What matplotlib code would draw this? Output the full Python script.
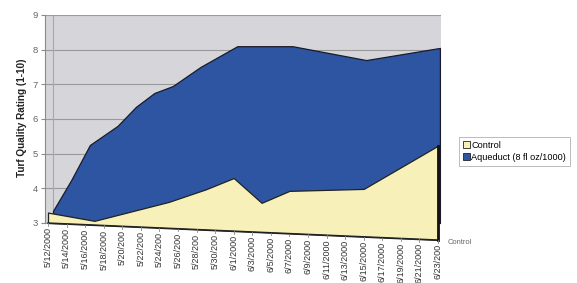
import matplotlib
matplotlib.use("Agg")
import matplotlib.pyplot as plt
from matplotlib.transforms import Affine2D
from matplotlib.patches import Patch
import datetime as dt

plt.rcParams['font.family'] = ['Liberation Sans', 'DejaVu Sans']

# ---------------- data ----------------
aq_dates = ["5/12", "5/14", "5/16", "5/19", "5/21", "5/23", "5/25", "5/28", "6/1", "6/7", "6/15", "6/23"]
aq_values = [3.35, 4.25, 5.25, 5.8, 6.35, 6.75, 6.95, 7.5, 8.1, 8.1, 7.7, 8.05]
ctrl_dates = ["5/12", "5/17", "5/20", "5/25", "5/29", "6/1", "6/4", "6/7", "6/15", "6/23"]
ctrl_values = [3.3, 3.12, 3.36, 3.76, 4.17, 4.53, 3.85, 4.23, 4.38, 5.72]
tick_dates = ["5/12", "5/14", "5/16", "5/18", "5/20", "5/22", "5/24", "5/26", "5/28", "5/30",
              "6/1", "6/3", "6/5", "6/7", "6/9", "6/11", "6/13", "6/15", "6/17", "6/19", "6/21", "6/23"]
tick_labels = ["5/12/2000", "5/14/2000", "5/16/2000", "5/18/2000", "5/20/200", "5/22/200",
               "5/24/200", "5/26/200", "5/28/200", "5/30/200", "6/1/2000", "6/3/2000",
               "6/5/2000", "6/7/2000", "6/9/2000", "6/11/2000", "6/13/2000", "6/15/2000",
               "6/17/2000", "6/19/2000", "6/21/2000", "6/23/200"]
y_ticks = [3, 4, 5, 6, 7, 8, 9]
series_names = ["Control", "Aqueduct (8 fl oz/1000)"]

START = dt.date(2000, 5, 12)


def day(s):
    m, d = s.split("/")
    return (dt.date(2000, int(m), int(d)) - START).days


aq_x = [day(s) for s in aq_dates]
ctrl_x = [day(s) for s in ctrl_dates]
tick_x = [day(s) for s in tick_dates]

BLUE = "#2d55a1"
YELLOW = "#f7f1b9"
WALL = "#d6d6da"

fig = plt.figure(figsize=(5.77, 2.83), dpi=100)
ax = fig.add_axes([45 / 577, 38 / 283, 396 / 577, 230 / 283])
ax.set_xlim(-0.323, 42.32)
ax.set_ylim(2.365, 9)

# front plane: slight perspective tilt; back plane: slight depth offset
k = (17 / 34.67) / 42.0
front = Affine2D.from_values(1, -k, 0, 1, 0, 0) + ax.transData
back = Affine2D.from_values(0.992, 0, 0, 1, 0.54, 0) + ax.transData

# back wall
ax.axhspan(y_ticks[0], y_ticks[-1], color=WALL, zorder=0.1, lw=0)
ax.set_yticks(y_ticks)
ax.yaxis.grid(True, color="#9a9a9a", lw=0.8)
ax.set_axisbelow(True)
yfrac = (3 - 2.365) / (9 - 2.365)
ax.axvline(0.55, ymin=yfrac, ymax=1, color="#a8a8a8", lw=0.8, zorder=0.6)

# Aqueduct (back series)
ax.fill_between(aq_x, y_ticks[0], aq_values, facecolor=BLUE, edgecolor="#1a1a2a",
                lw=0.9, zorder=2, transform=back)

# Control (front series)
ax.fill_between(ctrl_x, y_ticks[0], ctrl_values, facecolor=YELLOW, edgecolor="#222222",
                lw=0.9, zorder=3, transform=front)
ax.plot([ctrl_x[0], ctrl_x[-1]], [y_ticks[0], y_ticks[0]], color="#222222", lw=1.0,
        transform=front, zorder=4)
ax.plot([ctrl_x[-1], ctrl_x[-1]], [y_ticks[0], ctrl_values[-1]], color="#111111", lw=2.0,
        transform=front, zorder=4)

# x tick labels along the front edge
for xv, lab in zip(tick_x, tick_labels):
    ax.plot([xv, xv], [y_ticks[0], y_ticks[0] - 0.08], color="#888888", lw=0.6,
            transform=front, clip_on=False, zorder=4)
    ax.text(xv, y_ticks[0] - 0.12, lab, transform=front, rotation=90, ha="center",
            va="top", fontsize=6.5, color="#333333", clip_on=False)

# spines / y axis
for s in ["top", "right", "bottom"]:
    ax.spines[s].set_visible(False)
ax.spines["left"].set_bounds(y_ticks[0], y_ticks[-1])
ax.spines["left"].set_color("#8a8a8a")
ax.set_xticks([])
ax.tick_params(axis="y", length=3, color="#8a8a8a", labelsize=6.8, labelcolor="#666666", pad=2)

fig.text(22 / 577, 1 - 118 / 283, "Turf Quality Rating (1-10)", rotation=90,
         fontweight="bold", fontsize=7.2, ha="center", va="center", color="#222222")

fig.text(448 / 577, 1 - 242 / 283, series_names[0], fontsize=5.4, color="#666666", va="center")

handles = [Patch(facecolor=YELLOW, edgecolor="#222222", lw=0.6),
           Patch(facecolor=BLUE, edgecolor="#222222", lw=0.6)]
leg = fig.legend(handles, series_names, loc="upper left",
                 bbox_to_anchor=(459 / 577, 1 - 137 / 283), fontsize=6.6, frameon=True,
                 fancybox=False, edgecolor="#aaaaaa", borderpad=0.4, handlelength=0.75,
                 handleheight=0.85, handletextpad=0.2, labelspacing=0.35, borderaxespad=0)
leg.get_frame().set_linewidth(0.7)

fig.savefig("out.png", dpi=100)
